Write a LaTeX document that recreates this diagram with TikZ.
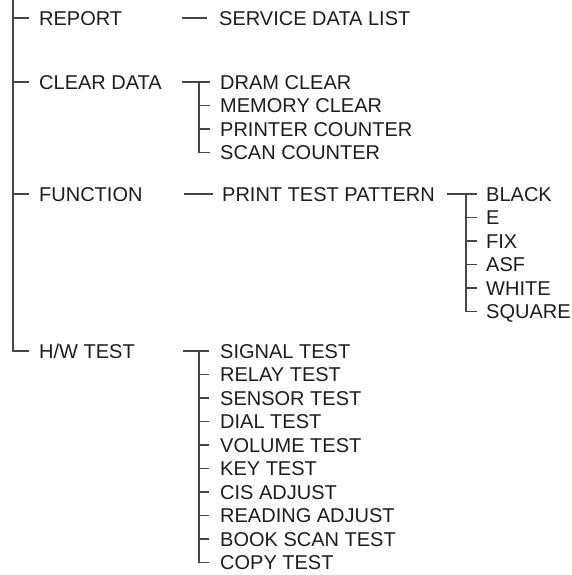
\documentclass[tikz,border=0pt]{standalone}
\usepackage{fontspec}
\setmainfont{Liberation Sans}
\definecolor{txt}{RGB}{30,28,28}
\definecolor{ln}{RGB}{70,70,70}
\begin{document}
\begin{tikzpicture}[x=1pt,y=-1pt,
  lbl/.style={anchor=west, inner sep=0pt, text height=14.3pt, text depth=0pt,
              font=\fontsize{20}{21}\selectfont, text=txt},
  conn/.style={line width=1.1pt, draw=ln}]
\useasboundingbox (0,0) rectangle (571,575);

% level 1
\coordinate (top) at (13,0);
\node[lbl] (report) at (39,18) {REPORT};
\node[lbl] (clear) at (39,82) {CLEAR DATA};
\node[lbl] (func) at (39,194) {FUNCTION};
\node[lbl] (hw) at (39,351) {H/W TEST};
\draw[conn] (top) |- ([xshift=-10pt]hw.west);
\foreach \n in {report,clear,func}
  \draw[conn] (\n.west -| top) -- ([xshift=-10pt]\n.west);

% REPORT
\node[lbl] (sdl) at (219,18) {SERVICE DATA LIST};
\draw[conn] ([xshift=-37pt]sdl.west) -- ([xshift=-12pt]sdl.west);

% CLEAR DATA
\coordinate (cb) at (199,0);
\node[lbl] (dram) at (220,82) {DRAM CLEAR};
\node[lbl] (mem) at (220,105.5) {MEMORY CLEAR};
\node[lbl] (prn) at (220,129) {PRINTER COUNTER};
\node[lbl] (scan) at (220,152.5) {SCAN COUNTER};
\draw[conn] ([xshift=-38pt]dram.west) -- ([xshift=-10pt]dram.west);
\draw[conn] (dram.west -| cb) |- ([xshift=-10pt]scan.west);
\foreach \n in {mem,prn}
  \draw[conn] (\n.west -| cb) -- ([xshift=-10pt]\n.west);

% FUNCTION
\node[lbl] (ptp) at (222,194) {PRINT TEST PATTERN};
\draw[conn] ([xshift=-38pt]ptp.west) -- ([xshift=-9pt]ptp.west);
\coordinate (pb) at (466,0);
\node[lbl] (black) at (486,194) {BLACK};
\node[lbl] (e) at (486,217.5) {E};
\node[lbl] (fix) at (486,241) {FIX};
\node[lbl] (asf) at (486,264.5) {ASF};
\node[lbl] (white) at (486,288) {WHITE};
\node[lbl] (square) at (486,311.5) {SQUARE};
\draw[conn] ([xshift=-39pt]black.west) -- ([xshift=-9pt]black.west);
\draw[conn] (black.west -| pb) |- ([xshift=-9pt]square.west);
\foreach \n in {e,fix,asf,white}
  \draw[conn] (\n.west -| pb) -- ([xshift=-9pt]\n.west);

% H/W TEST
\coordinate (hb) at (199,0);
\node[lbl] (sig) at (220,351) {SIGNAL TEST};
\node[lbl] (rel) at (220,374.5) {RELAY TEST};
\node[lbl] (sen) at (220,398) {SENSOR TEST};
\node[lbl] (dial) at (220,421.5) {DIAL TEST};
\node[lbl] (vol) at (220,445) {VOLUME TEST};
\node[lbl] (key) at (220,468.5) {KEY TEST};
\node[lbl] (cis) at (220,492) {CIS ADJUST};
\node[lbl] (read) at (220,515.5) {READING ADJUST};
\node[lbl] (book) at (220,539) {BOOK SCAN TEST};
\node[lbl] (copy) at (220,562.5) {COPY TEST};
\draw[conn] ([xshift=-37pt]sig.west) -- ([xshift=-11pt]sig.west);
\draw[conn] (sig.west -| hb) |- ([xshift=-11pt]copy.west);
\foreach \n in {rel,sen,dial,vol,key,cis,read,book}
  \draw[conn] (\n.west -| hb) -- ([xshift=-11pt]\n.west);
\end{tikzpicture}
\end{document}
